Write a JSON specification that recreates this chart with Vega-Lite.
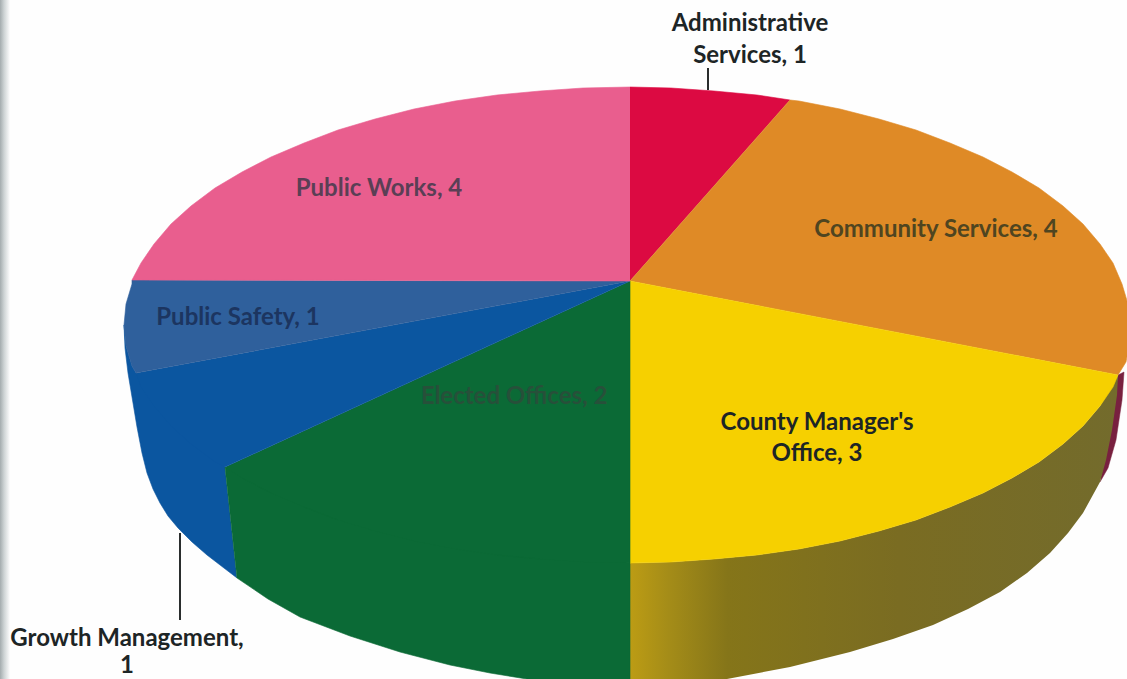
{"$schema":"https://vega.github.io/schema/vega-lite/v6.json","width":1127,"height":679,"autosize":{"type":"none"},"padding":0,"background":"#fefefe","view":{"stroke":null},
"datasets":{
"strip":[{"a":0,"b":10,"c":0,"d":679}],
"sliver":[{"o":1,"x":1118,"y":375},{"o":2,"x":1124,"y":372},{"o":3,"x":1122,"y":400},{"o":4,"x":1116,"y":440},{"o":5,"x":1108,"y":468},{"o":6,"x":1100,"y":482}],
"countySide":[{"o":1,"x":630,"y":563},{"o":2,"x":671,"y":562},{"o":3,"x":714,"y":559},{"o":4,"x":757,"y":555},{"o":5,"x":799,"y":549},{"o":6,"x":840,"y":541},{"o":7,"x":879,"y":531},{"o":8,"x":916,"y":520},{"o":9,"x":950,"y":507},{"o":10,"x":983,"y":493},{"o":11,"x":1012,"y":478},{"o":12,"x":1039,"y":462},{"o":13,"x":1063,"y":444},{"o":14,"x":1083,"y":426},{"o":15,"x":1100,"y":406},{"o":16,"x":1118,"y":375},{"o":17,"x":1117,"y":395},{"o":18,"x":1112,"y":430},{"o":19,"x":1106,"y":460},{"o":20,"x":1100,"y":482},{"o":21,"x":1083,"y":513},{"o":22,"x":1068,"y":533},{"o":23,"x":1050,"y":553},{"o":24,"x":1027,"y":573},{"o":25,"x":1000,"y":592},{"o":26,"x":968,"y":609},{"o":27,"x":933,"y":625},{"o":28,"x":893,"y":639},{"o":29,"x":850,"y":652},{"o":30,"x":790,"y":667},{"o":31,"x":727,"y":679},{"o":32,"x":680,"y":686},{"o":33,"x":630,"y":690}],
"faces":[
{"f":"Growth side","o":1,"x":225,"y":467},{"f":"Growth side","o":2,"x":136,"y":373},{"f":"Growth side","o":3,"x":132,"y":366},{"f":"Growth side","o":4,"x":126,"y":346},{"f":"Growth side","o":5,"x":124,"y":325},{"f":"Growth side","o":6,"x":125,"y":348},{"f":"Growth side","o":7,"x":128,"y":373},{"f":"Growth side","o":8,"x":133,"y":403},{"f":"Growth side","o":9,"x":137,"y":427},{"f":"Growth side","o":10,"x":142,"y":453},{"f":"Growth side","o":11,"x":147,"y":473},{"f":"Growth side","o":12,"x":153,"y":489},{"f":"Growth side","o":13,"x":160,"y":503},{"f":"Growth side","o":14,"x":168,"y":516},{"f":"Growth side","o":15,"x":178,"y":528},{"f":"Growth side","o":16,"x":192,"y":542},{"f":"Growth side","o":17,"x":207,"y":555},{"f":"Growth side","o":18,"x":237,"y":578},
{"f":"Elected side","o":1,"x":225,"y":467},{"f":"Elected side","o":2,"x":237,"y":578},{"f":"Elected side","o":3,"x":268,"y":599},{"f":"Elected side","o":4,"x":300,"y":617},{"f":"Elected side","o":5,"x":350,"y":636},{"f":"Elected side","o":6,"x":400,"y":652},{"f":"Elected side","o":7,"x":450,"y":665},{"f":"Elected side","o":8,"x":490,"y":673},{"f":"Elected side","o":9,"x":533,"y":680},{"f":"Elected side","o":10,"x":580,"y":686},{"f":"Elected side","o":11,"x":630,"y":690},{"f":"Elected side","o":12,"x":630,"y":563},
{"f":"Administrative Services","o":1,"x":630,"y":281},{"f":"Administrative Services","o":2,"x":630,"y":87},{"f":"Administrative Services","o":3,"x":671,"y":88},{"f":"Administrative Services","o":4,"x":714,"y":91},{"f":"Administrative Services","o":5,"x":757,"y":95},{"f":"Administrative Services","o":6,"x":790,"y":100},
{"f":"Community Services","o":1,"x":630,"y":281},{"f":"Community Services","o":2,"x":790,"y":100},{"f":"Community Services","o":3,"x":799,"y":101},{"f":"Community Services","o":4,"x":840,"y":109},{"f":"Community Services","o":5,"x":879,"y":119},{"f":"Community Services","o":6,"x":916,"y":130},{"f":"Community Services","o":7,"x":950,"y":143},{"f":"Community Services","o":8,"x":983,"y":157},{"f":"Community Services","o":9,"x":1012,"y":172},{"f":"Community Services","o":10,"x":1039,"y":188},{"f":"Community Services","o":11,"x":1063,"y":206},{"f":"Community Services","o":12,"x":1083,"y":224},{"f":"Community Services","o":13,"x":1100,"y":244},{"f":"Community Services","o":14,"x":1113,"y":263},{"f":"Community Services","o":15,"x":1122,"y":284},{"f":"Community Services","o":16,"x":1128,"y":304},{"f":"Community Services","o":17,"x":1130,"y":325},{"f":"Community Services","o":18,"x":1129,"y":346},{"f":"Community Services","o":19,"x":1126,"y":362},{"f":"Community Services","o":20,"x":1118,"y":375},
{"f":"County Manager's Office","o":1,"x":630,"y":281},{"f":"County Manager's Office","o":2,"x":1118,"y":375},{"f":"County Manager's Office","o":3,"x":1113,"y":387},{"f":"County Manager's Office","o":4,"x":1100,"y":406},{"f":"County Manager's Office","o":5,"x":1083,"y":426},{"f":"County Manager's Office","o":6,"x":1063,"y":444},{"f":"County Manager's Office","o":7,"x":1039,"y":462},{"f":"County Manager's Office","o":8,"x":1012,"y":478},{"f":"County Manager's Office","o":9,"x":983,"y":493},{"f":"County Manager's Office","o":10,"x":950,"y":507},{"f":"County Manager's Office","o":11,"x":916,"y":520},{"f":"County Manager's Office","o":12,"x":879,"y":531},{"f":"County Manager's Office","o":13,"x":840,"y":541},{"f":"County Manager's Office","o":14,"x":799,"y":549},{"f":"County Manager's Office","o":15,"x":757,"y":555},{"f":"County Manager's Office","o":16,"x":714,"y":559},{"f":"County Manager's Office","o":17,"x":671,"y":562},{"f":"County Manager's Office","o":18,"x":630,"y":563},
{"f":"Elected Offices","o":1,"x":630,"y":281},{"f":"Elected Offices","o":2,"x":630,"y":563},{"f":"Elected Offices","o":3,"x":583,"y":562},{"f":"Elected Offices","o":4,"x":540,"y":559},{"f":"Elected Offices","o":5,"x":497,"y":555},{"f":"Elected Offices","o":6,"x":455,"y":549},{"f":"Elected Offices","o":7,"x":414,"y":541},{"f":"Elected Offices","o":8,"x":375,"y":531},{"f":"Elected Offices","o":9,"x":338,"y":520},{"f":"Elected Offices","o":10,"x":304,"y":507},{"f":"Elected Offices","o":11,"x":271,"y":493},{"f":"Elected Offices","o":12,"x":242,"y":478},{"f":"Elected Offices","o":13,"x":225,"y":467},
{"f":"Growth Management","o":1,"x":630,"y":281},{"f":"Growth Management","o":2,"x":225,"y":467},{"f":"Growth Management","o":3,"x":215,"y":462},{"f":"Growth Management","o":4,"x":191,"y":444},{"f":"Growth Management","o":5,"x":171,"y":426},{"f":"Growth Management","o":6,"x":154,"y":406},{"f":"Growth Management","o":7,"x":141,"y":387},{"f":"Growth Management","o":8,"x":136,"y":373},
{"f":"Public Safety","o":1,"x":630,"y":281},{"f":"Public Safety","o":2,"x":136,"y":373},{"f":"Public Safety","o":3,"x":132,"y":366},{"f":"Public Safety","o":4,"x":126,"y":346},{"f":"Public Safety","o":5,"x":124,"y":325},{"f":"Public Safety","o":6,"x":126,"y":304},{"f":"Public Safety","o":7,"x":132,"y":284},{"f":"Public Safety","o":8,"x":132,"y":280},
{"f":"Public Works","o":1,"x":630,"y":281},{"f":"Public Works","o":2,"x":132,"y":280},{"f":"Public Works","o":3,"x":141,"y":263},{"f":"Public Works","o":4,"x":154,"y":244},{"f":"Public Works","o":5,"x":171,"y":224},{"f":"Public Works","o":6,"x":191,"y":206},{"f":"Public Works","o":7,"x":215,"y":188},{"f":"Public Works","o":8,"x":242,"y":172},{"f":"Public Works","o":9,"x":271,"y":157},{"f":"Public Works","o":10,"x":304,"y":143},{"f":"Public Works","o":11,"x":338,"y":130},{"f":"Public Works","o":12,"x":375,"y":119},{"f":"Public Works","o":13,"x":414,"y":109},{"f":"Public Works","o":14,"x":455,"y":101},{"f":"Public Works","o":15,"x":497,"y":95},{"f":"Public Works","o":16,"x":540,"y":91},{"f":"Public Works","o":17,"x":583,"y":88},{"f":"Public Works","o":18,"x":630,"y":87}
],
"leaders":[{"x":708,"y":68,"y2":90},{"x":180,"y":533,"y2":620}],
"labels":[
{"s":"Outside","t":"Administrative","x":750,"y":24},{"s":"Outside","t":"Services, 1","x":750,"y":56},
{"s":"Community Services","t":"Community Services, 4","x":936,"y":230},
{"s":"Outside","t":"County Manager's","x":817,"y":423},{"s":"Outside","t":"Office, 3","x":817,"y":454},
{"s":"Elected Offices","t":"Elected Offices, 2","x":514,"y":397},
{"s":"Outside","t":"Growth Management,","x":127,"y":639},{"s":"Outside","t":"1","x":127,"y":666},
{"s":"Public Safety","t":"Public Safety, 1","x":238,"y":318},
{"s":"Public Works","t":"Public Works, 4","x":379,"y":189}
]},
"encoding":{
"x":{"field":"x","type":"quantitative","axis":null,"scale":{"domain":[0,1127],"nice":false,"zero":false}},
"y":{"field":"y","type":"quantitative","axis":null,"scale":{"domain":[679,0],"nice":false,"zero":false}}
},
"layer":[
{"data":{"name":"strip"},"mark":{"type":"rect","fill":{"gradient":"linear","x1":0,"y1":0,"x2":1,"y2":0,"stops":[{"offset":0,"color":"#a4acae"},{"offset":0.4,"color":"#cdd3d4"},{"offset":1,"color":"#fefefe"}]}},"encoding":{"x":{"field":"a","type":"quantitative","axis":null,"scale":{"domain":[0,1127],"nice":false,"zero":false}},"x2":{"field":"b"},"y":{"field":"c","type":"quantitative","axis":null,"scale":{"domain":[679,0],"nice":false,"zero":false}},"y2":{"field":"d"}}},
{"data":{"name":"leaders"},"mark":{"type":"rule","color":"#2a2d2d","strokeWidth":2},"encoding":{"y2":{"field":"y2"}}},
{"data":{"name":"sliver"},"mark":{"type":"line","clip":true,"fill":"#78203f","stroke":"#78203f","strokeWidth":0.5},"encoding":{"order":{"field":"o"}}},
{"data":{"name":"countySide"},"mark":{"type":"line","clip":true,"strokeWidth":0,"stroke":null,"fill":{"gradient":"linear","x1":0,"y1":0,"x2":1,"y2":0,"stops":[{"offset":0,"color":"#bc9c14"},{"offset":0.08,"color":"#a48c18"},{"offset":0.2,"color":"#857519"},{"offset":0.55,"color":"#7a6c22"},{"offset":1,"color":"#736b2c"}]}},"encoding":{"order":{"field":"o"}}},
{"data":{"name":"faces"},"mark":{"type":"line","clip":true,"strokeWidth":0.6},"encoding":{"order":{"field":"o"},"detail":{"field":"f"},
"fill":{"field":"f","type":"nominal","legend":null,"scale":{"domain":["Growth side","Elected side","Administrative Services","Community Services","County Manager's Office","Elected Offices","Growth Management","Public Safety","Public Works"],"range":["#0b56a0","#0b6a36","#dc0a42","#df8a26","#f6d000","#0b6a36","#0b56a0","#2f609c","#e95e8e"]}},
"stroke":{"field":"f","type":"nominal","legend":null,"scale":{"domain":["Growth side","Elected side","Administrative Services","Community Services","County Manager's Office","Elected Offices","Growth Management","Public Safety","Public Works"],"range":["#0b56a0","#0b6a36","#dc0a42","#df8a26","#f6d000","#0b6a36","#0b56a0","#2f609c","#e95e8e"]}}}},
{"data":{"name":"labels"},"mark":{"type":"text","font":"Lato","fontWeight":"bold","fontSize":24,"align":"center","baseline":"middle"},"encoding":{"text":{"field":"t"},
"color":{"field":"s","type":"nominal","legend":null,"scale":{"domain":["Outside","Community Services","Elected Offices","Public Safety","Public Works"],"range":["#1d2526","#4f4520","#27503a","#1c3560","#5a3f55"]}}}}
]}
